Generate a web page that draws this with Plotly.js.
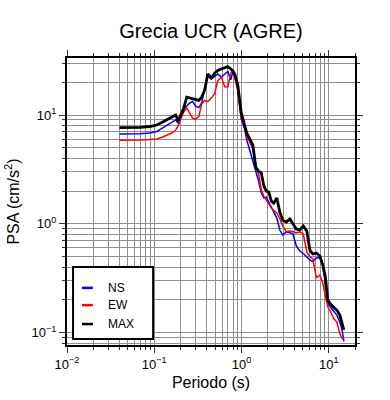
<!DOCTYPE html>
<html>
<head>
<meta charset="utf-8">
<script src="https://cdn.plot.ly/plotly-3.0.1.min.js"></script>
<style>html,body{margin:0;padding:0;background:#fff;}#chart{width:390px;height:400px;}</style>
</head>
<body>
<div id="chart"></div>
<script>
// Period (s)
var periods = [0.040, 0.0524, 0.0682, 0.0888, 0.107, 0.125, 0.143, 0.159, 0.176, 0.188,
  0.204, 0.218, 0.236, 0.255, 0.276, 0.299, 0.324, 0.350, 0.379, 0.411,
  0.451, 0.494, 0.535, 0.587, 0.643, 0.697, 0.754, 0.795, 0.838, 0.907,
  0.995, 1.077, 1.150, 1.245, 1.348, 1.459, 1.558, 1.687, 1.802, 1.925,
  2.056, 2.197, 2.346, 2.540, 2.749, 2.976, 3.265, 3.580, 3.876, 4.250,
  4.664, 5.113, 5.609, 6.073, 6.573, 7.209, 7.907, 8.558, 9.141, 9.766,
  10.57, 11.44, 12.38, 13.41, 14.32, 14.90];
// PSA (cm/s^2)
var psaNS = [6.69, 6.69, 6.73, 6.83, 7.05, 7.60, 8.09, 8.44, 9.00, 8.44,
  10.2, 11.4, 12.1, 12.9, 13.3, 12.0, 11.7, 12.9, 17.7, 22.8,
  21.4, 22.8, 23.8, 22.3, 23.8, 25.1, 21.0, 24.8, 23.3, 16.6,
  9.19, 7.60, 5.89, 4.77, 3.86, 3.12, 2.53, 1.92, 1.73, 1.76,
  1.59, 1.43, 1.28, 1.13, 0.877, 0.789, 0.846, 0.823, 0.815, 0.625,
  0.562, 0.533, 0.500, 0.465, 0.450, 0.485, 0.490, 0.409, 0.292, 0.187,
  0.170, 0.158, 0.145, 0.125, 0.103, 0.083];
var psaEW = [5.85, 5.85, 5.89, 5.95, 6.02, 6.28, 6.55, 6.83, 7.28, 7.92,
  9.39, 10.7, 11.6, 10.4, 9.33, 9.19, 9.65, 12.6, 13.6, 13.3,
  14.3, 15.8, 20.7, 22.3, 18.2, 18.1, 24.2, 25.9, 21.9, 17.0,
  9.19, 8.09, 6.28, 5.65, 4.87, 3.33, 2.99, 2.05, 1.80, 1.65,
  1.52, 1.40, 1.32, 1.26, 1.12, 0.954, 0.846, 0.859, 0.850, 0.823,
  0.846, 0.806, 0.550, 0.500, 0.475, 0.320, 0.338, 0.286, 0.217, 0.172,
  0.154, 0.134, 0.125, 0.098, 0.088, 0.090];
var psaMAX = [7.64, 7.64, 7.71, 7.84, 8.09, 8.62, 9.19, 9.59, 10.0, 8.81,
  10.4, 11.6, 14.6, 14.3, 14.0, 13.7, 13.6, 14.6, 17.0, 23.8,
  21.9, 24.3, 25.6, 26.5, 27.3, 27.8, 26.5, 25.4, 23.8, 18.9,
  10.4, 8.44, 6.83, 6.02, 5.30, 3.33, 3.06, 2.93, 2.23, 2.00,
  1.96, 1.62, 1.55, 1.73, 1.28, 1.08, 1.04, 1.11, 0.996, 0.896,
  0.877, 0.954, 0.859, 0.574, 0.528, 0.539, 0.506, 0.418, 0.324, 0.199,
  0.181, 0.172, 0.161, 0.145, 0.120, 0.106];

var seriesNames = ['NS', 'EW', 'MAX'];
var seriesColors = ['#0000ff', '#ff0000', '#000000'];
var seriesWidths = [1.5, 1.5, 2.8];
var seriesValues = [psaNS, psaEW, psaMAX];

var xTickVals = [0.01, 0.1, 1, 10];
var xTickText = ['10<sup>\u22122</sup>', '10<sup>\u22121</sup>', '10<sup>0</sup>', '10<sup>1</sup>'];
var yTickVals = [0.1, 1, 10];
var yTickText = ['10<sup>\u22121</sup>', '10<sup>0</sup>', '10<sup>1</sup>'];

function minorVals(lo, hi) {
  var out = [];
  for (var d = -3; d <= 2; d++) {
    for (var m = 2; m <= 9; m++) {
      var v = m * Math.pow(10, d);
      if (v >= lo && v <= hi) out.push(v);
    }
  }
  return out;
}

var traces = seriesNames.map(function (n, i) {
  return {
    x: periods, y: seriesValues[i], type: 'scatter', mode: 'lines', name: n,
    line: {color: seriesColors[i], width: seriesWidths[i]},
    showlegend: false
  };
});

var font = 'Liberation Sans, Arial, Helvetica, sans-serif';
var gridColor = '#8f8f8f';
var tickColor = '#333';

var axisCommon = {
  type: 'log',
  showline: true, linecolor: '#000', linewidth: 2, mirror: 'ticks',
  ticks: 'outside', ticklen: 6, tickcolor: tickColor, tickwidth: 1,
  showgrid: true, gridcolor: gridColor, gridwidth: 1,
  zeroline: false,
  tickfont: {family: font, size: 13, color: '#000'},
  tickmode: 'array'
};

var xaxis = Object.assign({}, axisCommon, {
  range: [-2, Math.log10(20)],
  tickvals: xTickVals, ticktext: xTickText,
  minor: {tickmode: 'array', tickvals: minorVals(0.01, 20), ticks: 'outside', ticklen: 3,
          tickcolor: tickColor, showgrid: true, gridcolor: gridColor, gridwidth: 1},
  title: {text: 'Periodo (s)', font: {family: font, size: 16, color: '#000'}, standoff: 6}
});
var yaxis = Object.assign({}, axisCommon, {
  range: [Math.log10(0.077), Math.log10(33.4)],
  tickvals: yTickVals, ticktext: yTickText,
  minor: {tickmode: 'array', tickvals: minorVals(0.077, 33.4), ticks: 'outside', ticklen: 3,
          tickcolor: tickColor, showgrid: true, gridcolor: gridColor, gridwidth: 1},
  title: {text: 'PSA (cm/s<sup>2</sup>)', font: {family: font, size: 16, color: '#000'}, standoff: 8}
});

// manual legend (box, line samples, labels)
var legX0 = 0.021, legX1 = 0.299, legY0 = 0.021, legY1 = 0.272;
var legRowsY = [0.199, 0.139, 0.073];
var shapes = [{type: 'rect', xref: 'paper', yref: 'paper', x0: legX0, x1: legX1, y0: legY0, y1: legY1,
  line: {color: '#000', width: 2}, fillcolor: '#fff', layer: 'above'}];
var annotations = [];
seriesNames.forEach(function (n, i) {
  shapes.push({type: 'line', xref: 'paper', yref: 'paper', x0: 0.052, x1: 0.090,
    y0: legRowsY[i], y1: legRowsY[i], line: {color: seriesColors[i], width: 2.5}, layer: 'above'});
  annotations.push({xref: 'paper', yref: 'paper', x: 0.135, y: legRowsY[i], text: n,
    showarrow: false, xanchor: 'left', yanchor: 'middle',
    font: {family: font, size: 12, color: '#000'}});
});

var layout = {
  width: 390, height: 400,
  margin: {l: 67, r: 35, t: 58, b: 55, pad: 0},
  paper_bgcolor: '#fff', plot_bgcolor: '#fff',
  title: {text: 'Grecia UCR (AGRE)', font: {family: font, size: 20, color: '#000'},
          x: 0.5, xref: 'paper', xanchor: 'center', y: 1, yref: 'container', yanchor: 'top', pad: {t: 24}},
  xaxis: xaxis, yaxis: yaxis,
  shapes: shapes, annotations: annotations,
  showlegend: false,
  font: {family: font}
};

Plotly.newPlot('chart', traces, layout, {staticPlot: true, displayModeBar: false});
</script>
</body>
</html>
